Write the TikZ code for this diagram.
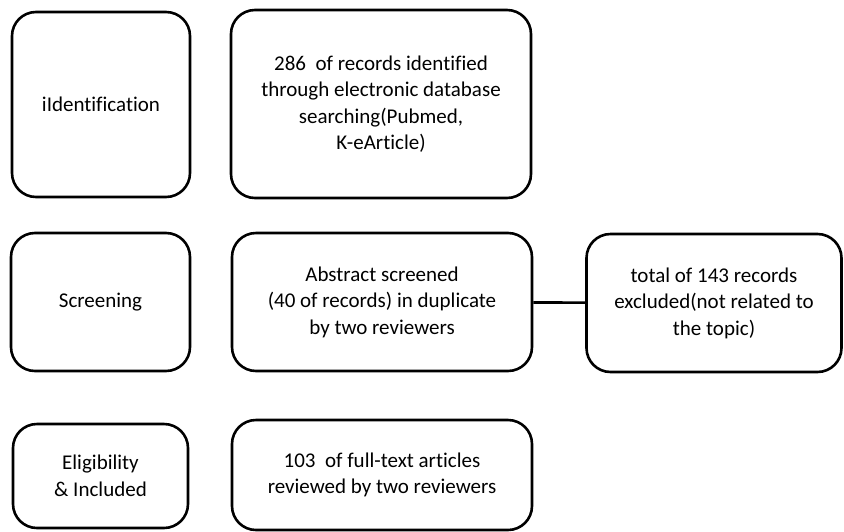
\documentclass[tikz,border=0pt]{standalone}
\usepackage{fontspec}
\setmainfont[Ligatures=NoCommon]{Carlito}
\usepackage{tikz}

\begin{document}
\begin{tikzpicture}[x=1pt,y=-1pt,
    stagebox/.style={draw,rounded corners=24pt,line width=2.6pt,align=center,
      inner sep=0pt,font=\fontsize{21}{26.5}\selectfont}]
      \useasboundingbox (0,0) rectangle (844,531);
      % stages on the left, records in the middle
      \node[stagebox,minimum width=178pt,minimum height=185pt] (ident) at (101,104.5) {iIdentification};
      \node[stagebox,minimum width=300pt,minimum height=188pt] (found) at (381,104) {286\ \ of records identified\\through electronic database\\searching(Pubmed,\\K-eArticle)};
      \node[stagebox,minimum width=179pt,minimum height=138pt] (screen) at (100.5,302) {Screening};
      \node[stagebox,minimum width=300pt,minimum height=138pt] (abstract) at (382,302) {Abstract screened\\(40 of records) in duplicate\\by two reviewers};
      \node[stagebox,minimum width=255pt,minimum height=138pt] (excluded) at (714,303) {total of 143 records\\excluded(not related to\\the topic)};
      \node[stagebox,minimum width=175pt,minimum height=104pt] (elig) at (100.5,476) {Eligibility\\\& Included};
      \node[stagebox,minimum width=300pt,minimum height=110pt] (fulltext) at (382,475) {103\ \ of full-text articles\\reviewed by two reviewers};
      \draw[line width=2.6pt] (abstract) -- (excluded);
    \end{tikzpicture}
\end{document}
